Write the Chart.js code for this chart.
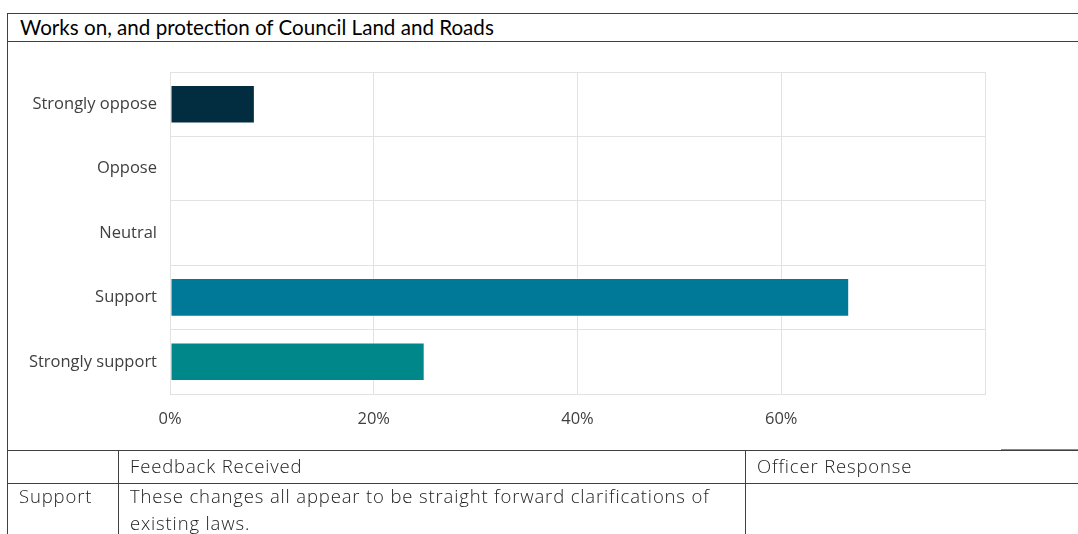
<!DOCTYPE html>
<html>
<head>
<meta charset="utf-8">
<script src="https://cdn.jsdelivr.net/npm/chart.js@4"></script>
<style>
  body { margin: 0; background: #fff; width: 1078px; height: 534px; overflow: hidden; position: relative; font-family: Lato, "Open Sans", sans-serif; }
  .title {
    position: absolute; left: 7px; top: 13px; width: 1071px; height: 27px;
    border-top: 1px solid #404040; border-left: 1px solid #404040; border-bottom: 1px solid #404040;
    font-size: 20.6px; line-height: 27px; padding-left: 12px; box-sizing: content-box; color: #000;
  }
  .leftline { position: absolute; left: 7px; top: 41px; width: 1px; height: 409px; background: #404040; }
  .chartbox { position: absolute; left: 8px; top: 42px; width: 1070px; height: 408px; }
  .graybit { position: absolute; left: 1001px; top: 449px; width: 77px; height: 1px; background: #8a8a8a; }
  table.feedback {
    position: absolute; left: 7px; top: 450px; border-collapse: collapse;
    table-layout: fixed; width: 1110px;
    font-family: "Open Sans", sans-serif; font-size: 18.5px; letter-spacing: 0.85px; color: #222; font-weight: 300;
  }
  table.feedback td { border: 1px solid #404040; vertical-align: top; padding: 0 11px; line-height: 27px; white-space: nowrap; }
  table.feedback tr.head td { height: 32px; line-height: 31px; }
  table.feedback tr.head td div { position: relative; top: -1px; }
  table.feedback tr.body td div { position: relative; top: -2px; }
</style>
</head>
<body>
<div class="title">Works on, and protection of Council Land and Roads</div>
<div class="leftline"></div>
<div class="chartbox"><canvas id="responseChart"></canvas></div>
<div class="graybit"></div>
<table class="feedback">
  <colgroup>
    <col style="width:111px">
    <col style="width:627px">
    <col style="width:372px">
  </colgroup>
  <tr class="head">
    <td></td>
    <td><div>Feedback Received</div></td>
    <td><div>Officer Response</div></td>
  </tr>
  <tr class="body">
    <td><div>Support</div></td>
    <td><div>These changes all appear to be straight forward clarifications of<br>existing laws.</div></td>
    <td></td>
  </tr>
</table>

<script>
const categories = ["Strongly oppose", "Oppose", "Neutral", "Support", "Strongly support"];
const percentValues = [8.33, 0, 0, 66.67, 25];
const barColours = ["#022d40", "#034a63", "#0a6a80", "#007898", "#00878a"];
const tickLabels = ["0%", "20%", "40%", "60%"];

let responseChart;

function renderResponseChart() {
  const ctx = document.getElementById("responseChart");
  if (responseChart) responseChart.destroy();

  responseChart = new Chart(ctx, {
    type: "bar",
    data: {
      labels: categories,
      datasets: [
        {
          data: percentValues,
          backgroundColor: barColours,
          borderColor: "rgba(255,255,255,0.35)",
          borderWidth: 1,
          borderSkipped: false,
          barPercentage: 0.6,
          categoryPercentage: 1,
        },
      ],
    },
    options: {
      indexAxis: "y",
      responsive: true,
      maintainAspectRatio: false,
      animation: false,
      layout: { padding: { top: 30, right: 93, bottom: 0, left: 0 } },
      plugins: { legend: { display: false }, tooltip: { enabled: false } },
      scales: {
        x: {
          min: 0,
          max: 80,
          grid: { color: "#e2e2e2", drawTicks: false },
          border: { color: "#e2e2e2" },
          ticks: {
            stepSize: 20,
            padding: 15,
            color: "#404040",
            font: { family: "Open Sans", size: 16.5 },
            callback: (value, i) => tickLabels[i] || "",
          },
          afterFit: (scale) => { scale.height = 56; },
        },
        y: {
          grid: { color: "#e2e2e2", drawTicks: false },
          border: { color: "#e2e2e2" },
          ticks: {
            padding: 13,
            color: "#404040",
            font: { family: "Open Sans", size: 16.5 },
          },
          afterFit: (scale) => { scale.width = 162; },
        },
      },
    },
  });
}

renderResponseChart();
</script>
</body>
</html>
